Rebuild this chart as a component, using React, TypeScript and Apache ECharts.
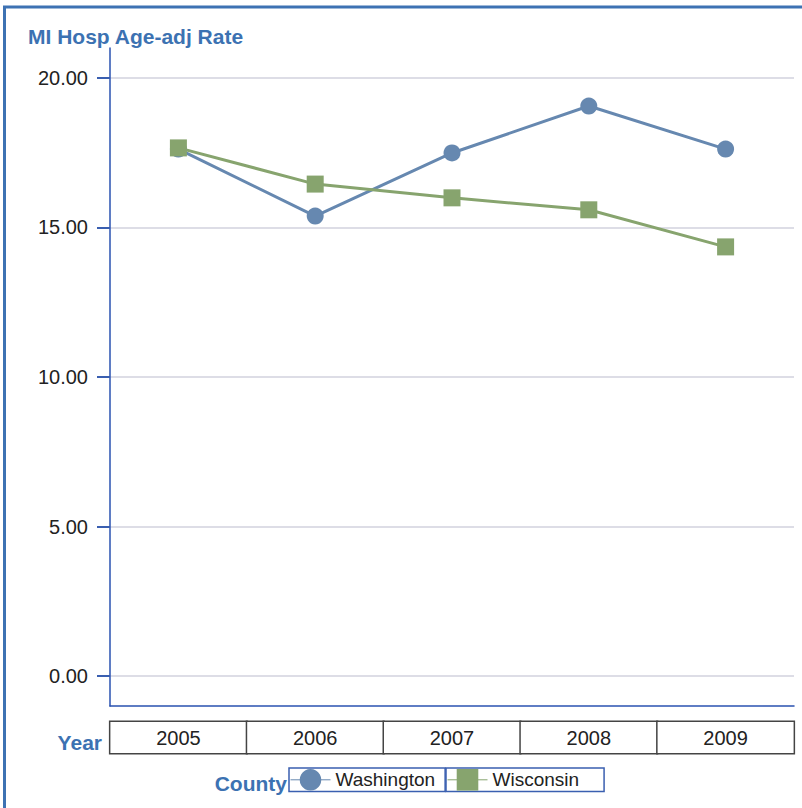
import React, { useEffect, useRef } from "react";
import * as echarts from "echarts";

const years = ["2005", "2006", "2007", "2008", "2009"];
const washington = [17.62, 15.38, 17.49, 19.06, 17.62];
const wisconsin = [17.66, 16.45, 15.99, 15.59, 14.35];
const yTicks = [0, 5, 10, 15, 20];

const FONT = "'Liberation Sans', Arial, sans-serif";
const BLUE_TEXT = "#3c72b2";
const WA_COLOR = "#6688b0";
const WI_COLOR = "#87a46e";

export default function App() {
  const ref = useRef<HTMLDivElement>(null);
  useEffect(() => {
    document.body.style.margin = "0";
    if (!ref.current) return;
    const chart = echarts.init(ref.current, undefined, { renderer: "svg" });
    chart.setOption({
      animation: false,
      backgroundColor: "#ffffff",
      textStyle: { fontFamily: FONT },
      title: {
        text: "MI Hosp Age-adj Rate",
        left: 28,
        top: 26,
        padding: 0,
        textStyle: { fontFamily: FONT, fontSize: 21, fontWeight: "bold", color: BLUE_TEXT },
      },
      grid: { left: 110, right: 8, top: 48, bottom: 102, containLabel: false },
      xAxis: {
        type: "category",
        data: years,
        boundaryGap: true,
        axisLine: { show: true, onZero: false, lineStyle: { color: "#2a52b0", width: 1.5 } },
        axisTick: { show: false },
        splitLine: { show: false },
        axisLabel: {
          interval: 0,
          margin: 16,
          fontFamily: FONT,
          fontSize: 20,
          color: "#222222",
          width: 136,
          height: 31,
          lineHeight: 31,
          align: "center",
          verticalAlign: "top",
          borderColor: "#444444",
          borderWidth: 1.5,
          backgroundColor: "#ffffff",
          hideOverlap: false,
        },
      },
      yAxis: {
        type: "value",
        min: -1,
        max: 21,
        axisLine: { show: true, lineStyle: { color: "#2a52b0", width: 1.5 } },
        axisTick: {
          show: true,
          inside: false,
          length: 13,
          customValues: yTicks,
          lineStyle: { color: "#3a5fb0", width: 2 },
        },
        axisLabel: {
          customValues: yTicks,
          margin: 22,
          fontFamily: FONT,
          fontSize: 20,
          color: "#222222",
          formatter: (v: number) => v.toFixed(2),
        },
        splitLine: { show: true, lineStyle: { color: "#d2d2de", width: 1.5 } },
      },
      legend: [
        {
          data: ["Washington"],
          left: 289,
          top: 768,
          orient: "horizontal",
          itemWidth: 40,
          itemHeight: 27,
          itemGap: 0,
          padding: [1, 10, 1, 1],
          borderColor: "#3a5fb0",
          borderWidth: 1.5,
          selectedMode: false,
          lineStyle: { width: 1 },
          textStyle: { fontFamily: FONT, fontSize: 19, color: "#222222" },
        },
        {
          data: ["Wisconsin"],
          left: 446,
          top: 768,
          orient: "horizontal",
          itemWidth: 40,
          itemHeight: 27,
          itemGap: 0,
          padding: [1, 25, 1, 1],
          borderColor: "#3a5fb0",
          borderWidth: 1.5,
          selectedMode: false,
          lineStyle: { width: 1 },
          textStyle: { fontFamily: FONT, fontSize: 19, color: "#222222" },
        },
      ],
      graphic: [
        {
          type: "rect",
          shape: { x: 4.5, y: 7, width: 900, height: 900 },
          style: { fill: "none", stroke: "#3d72b3", lineWidth: 3 },
          silent: true,
        },
        {
          type: "text",
          x: 102,
          y: 742,
          style: {
            text: "Year",
            fill: BLUE_TEXT,
            font: `bold 21px ${FONT}`,
            align: "right",
            verticalAlign: "middle",
          },
        },
        {
          type: "text",
          x: 287,
          y: 783,
          style: {
            text: "County",
            fill: BLUE_TEXT,
            font: `bold 21px ${FONT}`,
            align: "right",
            verticalAlign: "middle",
          },
        },
      ],
      series: [
        {
          name: "Washington",
          type: "line",
          data: washington,
          symbol: "circle",
          symbolSize: 17,
          lineStyle: { color: WA_COLOR, width: 3 },
          itemStyle: { color: WA_COLOR },
        },
        {
          name: "Wisconsin",
          type: "line",
          data: wisconsin,
          symbol: "rect",
          symbolSize: 17,
          lineStyle: { color: WI_COLOR, width: 3 },
          itemStyle: { color: WI_COLOR },
        },
      ],
    });
    return () => chart.dispose();
  }, []);
  return (
    <div
      ref={ref}
      style={{ position: "fixed", left: 0, top: 0, width: 802, height: 808 }}
    />
  );
}
